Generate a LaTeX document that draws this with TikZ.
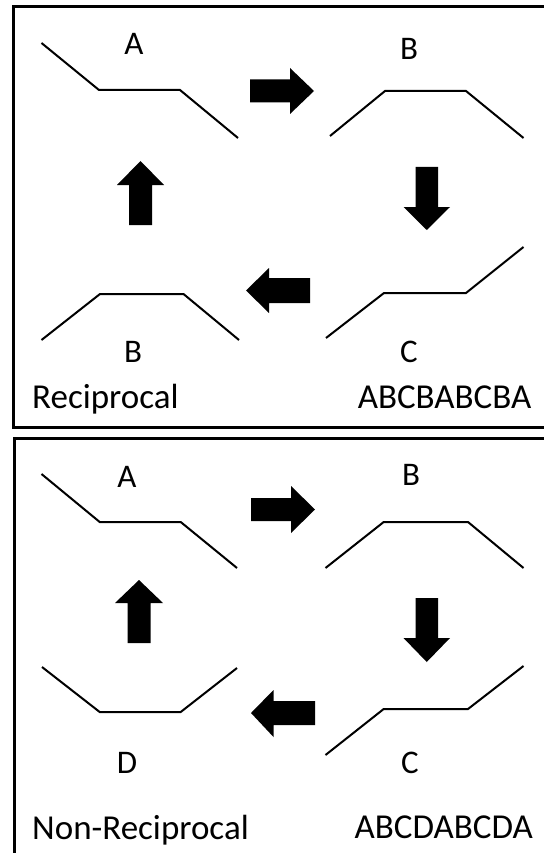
\documentclass[tikz,border=0pt]{standalone}
\usepackage{fontspec}
\setmainfont{Carlito}
\begin{document}
\begin{tikzpicture}[x=1pt,y=-1pt,
  wave/.style={line width=2pt, line join=miter},
  frame/.style={line width=3pt},
  blk/.style={fill=black},
  lbl/.style={font=\fontsize{33}{40}\selectfont, anchor=base, inner sep=0pt},
  capw/.style={font=\fontsize{35}{42}\selectfont, anchor=base west, inner sep=0pt},
  cape/.style={font=\fontsize{35}{42}\selectfont, anchor=base east, inner sep=0pt}]
\useasboundingbox (0,0) rectangle (543,853);
% frames
\draw[frame] (13,7) rectangle (560,427);
\draw[frame] (14,438) rectangle (560,880);

% ---------- top panel ----------
\draw[wave] (41.5,43) -- (99,90) -- (180,90) -- (238,138);
\node[lbl] (tA) at (134,55) {A};
\draw[wave] (330,136) -- (385,91) -- (466,91) -- (523.5,138);
\node[lbl] (tB) at (409,60) {B};
\draw[wave] (41.5,340) -- (100,294) -- (183.5,294) -- (239,340);
\node[lbl] (tB2) at (133,362) {B};
\draw[wave] (326,338) -- (384,293) -- (466,293) -- (523.5,247);
\node[lbl] (tC) at (409,362) {C};
% block arrows
\fill[blk] (250,79.5) -- (290,79.5) -- (290,68) -- (314,91) -- (290,114) -- (290,102.5) -- (250,102.5) -- cycle;
\fill[blk] (415.5,167) -- (438,167) -- (438,207) -- (450,207) -- (426.75,230) -- (403.5,207) -- (415.5,207) -- cycle;
\fill[blk] (129,225) -- (152,225) -- (152,185) -- (164,185) -- (140.5,161) -- (117,185) -- (129,185) -- cycle;
\fill[blk] (310,278) -- (310,303) -- (269,303) -- (269,313) -- (246,290.5) -- (269,268) -- (269,278) -- cycle;
\node[capw] (tRec) at (32,408) {Reciprocal};
\node[cape] (tSeq1) at (531.5,408) {ABCBABCBA};

% ---------- bottom panel ----------
\draw[wave] (41.5,474) -- (99.7,522) -- (180.7,522) -- (237,568);
\node[lbl] (bA) at (127,487) {A};
\draw[wave] (325.5,568) -- (383.7,522) -- (468,522) -- (523.5,568);
\node[lbl] (bB) at (411,485) {B};
\draw[wave] (42,667) -- (99.7,712) -- (180.7,712) -- (237,668);
\node[lbl] (bD) at (127,773) {D};
\draw[wave] (325.5,755) -- (383.7,709) -- (468,709) -- (523.5,666);
\node[lbl] (bC) at (410,773) {C};
% block arrows
\fill[blk] (251,498) -- (291,498) -- (291,486) -- (315,509.5) -- (291,533) -- (291,521) -- (251,521) -- cycle;
\fill[blk] (415.5,598) -- (438,598) -- (438,638) -- (450,638) -- (426.75,662) -- (403.5,638) -- (415.5,638) -- cycle;
\fill[blk] (127.5,643) -- (150.5,643) -- (150.5,603) -- (163,603) -- (139,580) -- (115,603) -- (127.5,603) -- cycle;
\fill[blk] (315,701) -- (315,725) -- (273.5,725) -- (273.5,737) -- (251,713) -- (273.5,690) -- (273.5,701) -- cycle;
\node[capw] (tNon) at (32,839) {Non-Reciprocal};
\node[cape] (tSeq2) at (533,838) {ABCDABCDA};
\end{tikzpicture}
\end{document}
